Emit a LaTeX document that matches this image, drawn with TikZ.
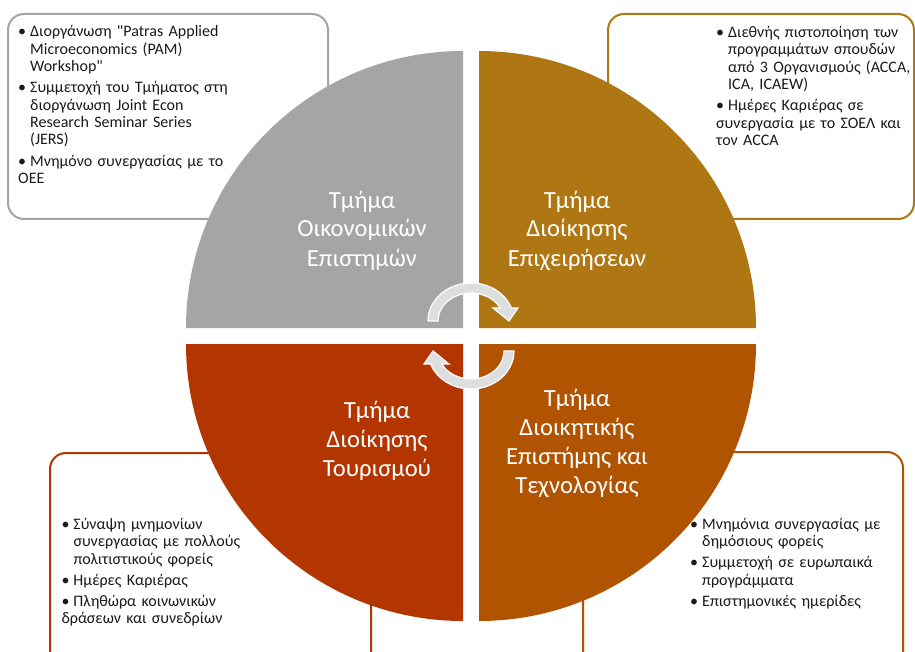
\documentclass[tikz,border=0pt]{standalone}
\usepackage{fontspec}
\setmainfont{Carlito}[Ligatures=TeXOff]
\definecolor{qgray}{HTML}{A5A5A5}
\definecolor{qgold}{HTML}{AF7713}
\definecolor{qred}{HTML}{B33600}
\definecolor{qbrown}{HTML}{B05402}
\definecolor{arrowfill}{HTML}{DEDEDE}
\definecolor{txtcol}{HTML}{1A1A1A}
\newcommand{\bulfirst}{\hangindent=12pt\hangafter=1\makebox[12pt][l]{•}}
\newcommand{\bul}{\par\hangindent=12pt\hangafter=1\noindent\makebox[12pt][l]{•}}
\newcommand{\nl}{\hfil\break}
\tikzset{
  infobox/.style={line width=2pt, fill=white, rounded corners=16pt},
  boxtext/.style={anchor=base west, inner sep=0pt, text width=260pt, text=txtcol,
    font=\fontsize{16}{17.4}\selectfont\setlength{\parskip}{3.8pt}},
  quadlabel/.style={anchor=base, inner sep=0pt, align=center, text=white,
    font=\fontsize{24.6}{29}\selectfont},
  cyclearrow/.style={fill=arrowfill, draw=white, line width=1.2pt, line join=miter}
}
\begin{document}
\begin{tikzpicture}[x=1pt, y=-1pt]
\path[use as bounding box] (0,0) rectangle (915,652);
\clip (0,0) rectangle (915,652);
\fill[white] (0,0) rectangle (915,652);

% information boxes
\draw[infobox, draw=qgray]  (8,14)  rectangle (328,219);
\draw[infobox, draw=qgold]  (608,14) rectangle (914,219);
\draw[infobox, draw=qred]   (50,453) rectangle (371,690);
\draw[infobox, draw=qbrown] (583,452) rectangle (903,690);

% quadrants
\fill[qgray]  (463,328) -- (186,328) arc[start angle=180, end angle=270, radius=277] -- cycle;
\fill[qgold]  (479,328) -- (479,51)  arc[start angle=270, end angle=360, radius=277] -- cycle;
\fill[qred]   (463,344) -- (463,621) arc[start angle=90,  end angle=180, radius=277] -- cycle;
\fill[qbrown] (479,344) -- (756,344) arc[start angle=0,   end angle=90,  radius=277] -- cycle;

% cycle arrows
\path[cyclearrow] (428,321) arc[start angle=180, end angle=340, x radius=43, y radius=38]
  -- (518,308) -- (509,321) -- (493,308) -- (500.2,308)
  arc[start angle=332.3, end angle=180, x radius=33, y radius=28] -- cycle;
\path[cyclearrow] (514,351) arc[start angle=0, end angle=160, x radius=43, y radius=38]
  -- (424,364) -- (433,351) -- (449,364) -- (441.8,364)
  arc[start angle=152.3, end angle=0, x radius=33, y radius=28] -- cycle;

% quadrant labels (base anchor = last line baseline)
\node[quadlabel] (econ) at (362,266) {Τμήμα\\Οικονομικών\\Επιστημών};
\node[quadlabel] (busadm) at (577,266) {Τμήμα\\Διοίκησης\\Επιχειρήσεων};
\node[quadlabel] (tour) at (377,476) {Τμήμα\\Διοίκησης\\Τουρισμού};
\node[quadlabel] (admsci) at (577,493) {Τμήμα\\Διοικητικής\\Επιστήμης και\\Τεχνολογίας};

% box texts
\node[boxtext] (econtxt) at (18,36.7) {%
\bulfirst Διοργάνωση "Patras Applied\nl Microeconomics (PAM)\nl Workshop"
\bul Συμμετοχή του Τμήματος στη\nl διοργάνωση Joint Econ\nl Research Seminar Series\nl (JERS)
\bul Μνημόνο συνεργασίας με το\nl ΟΕΕ};
\node[boxtext] (bustxt) at (716,37.3) {%
\bulfirst Διεθνής πιστοποίηση των\nl προγραμμάτων σπουδών\nl από 3 Οργανισμούς (ACCA,\nl ICA, ICAEW)
\bul Ημέρες Καριέρας σε\nl συνεργασία με το ΣΟΕΛ και\nl τον ACCA};
\node[boxtext] (tourtxt) at (61.3,529.3) {%
\bulfirst Σύναψη μνημονίων\nl συνεργασίας με πολλούς\nl πολιτιστικούς φορείς
\bul Ημέρες Καριέρας
\bul Πληθώρα κοινωνικών\nl δράσεων και συνεδρίων};
\node[boxtext] (admtxt) at (690,529.3) {%
\bulfirst Μνημόνια συνεργασίας με\nl δημόσιους φορείς
\bul Συμμετοχή σε ευρωπαικά\nl προγράμματα
\bul Επιστημονικές ημερίδες};
\end{tikzpicture}
\end{document}
